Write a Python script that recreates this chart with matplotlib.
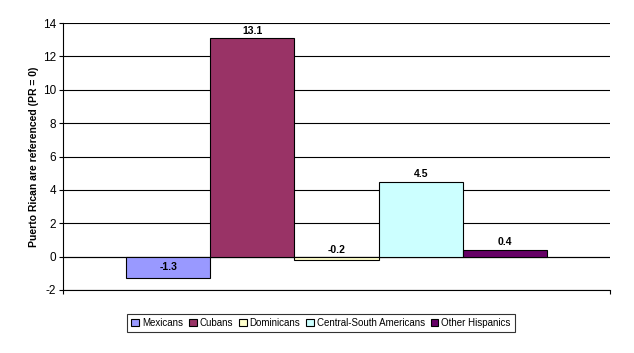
import matplotlib
matplotlib.use("Agg")
import matplotlib.pyplot as plt
import numpy as np

plt.rcParams['font.family'] = ['Liberation Sans', 'DejaVu Sans']

groups = ["Mexicans", "Cubans", "Dominicans", "Central-South Americans", "Other Hispanics"]
values = [-1.3, 13.1, -0.2, 4.5, 0.4]
colors = ["#9999FF", "#993366", "#FFFFCC", "#CCFFFF", "#660066"]
yticks = [-2, 0, 2, 4, 6, 8, 10, 12, 14]

fig = plt.figure(figsize=(6.34, 3.53), dpi=100)
ax = fig.add_axes([63 / 634, 1 - 290 / 353, 547 / 634, 267 / 353])

# one category, five bars, Excel-style 150% gap
bar_w = 1 / (len(groups) + 1.5)
offsets = (np.arange(len(groups)) - (len(groups) - 1) / 2) * bar_w
for name, val, col, off in zip(groups, values, colors, offsets):
    ax.bar(off, val, width=bar_w, color=col, edgecolor='black', linewidth=0.8,
           label=name, zorder=3)
    if val < -1:
        ypos, va = val / 2 + 0.05, 'center'
    elif val < 0:
        ypos, va = 0.1, 'bottom'
    else:
        ypos, va = val + 0.15, 'bottom'
    ax.text(off, ypos, f"{val:.1f}", ha='center', va=va, fontsize=7.5,
            fontweight='bold', zorder=4)

ax.set_xlim(-0.5, 0.5)
ax.set_ylim(-2, 14)
ax.set_yticks(yticks)
ax.set_yticklabels([str(t) for t in yticks], fontsize=8.5)
ax.set_xticks([-0.5, 0.5])
ax.set_xticklabels(["", ""])
ax.yaxis.grid(True, color='black', linewidth=0.8, zorder=0)
ax.axhline(0, color='black', linewidth=0.8, zorder=2)
ax.axhline(-2, color='black', linewidth=0.8, zorder=2, clip_on=False)
for s in ['top', 'right', 'bottom']:
    ax.spines[s].set_visible(False)
ax.spines['left'].set_linewidth(0.8)
ax.tick_params(axis='y', length=3, width=0.8, pad=2)
ax.tick_params(axis='x', length=3, width=0.8)
ax.set_ylabel("Puerto Rican are referenced (PR = 0)", fontsize=7.5,
              fontweight='bold', labelpad=3)

leg = fig.legend(loc='center', bbox_to_anchor=(321 / 634, 1 - 323 / 353), ncol=5,
                 fontsize=7, frameon=True, fancybox=False, edgecolor='black',
                 handlelength=0.8, handleheight=0.8, handletextpad=0.3,
                 columnspacing=0.6, borderpad=0.4)
leg.get_frame().set_linewidth(0.8)

fig.savefig("out.png", dpi=100)
